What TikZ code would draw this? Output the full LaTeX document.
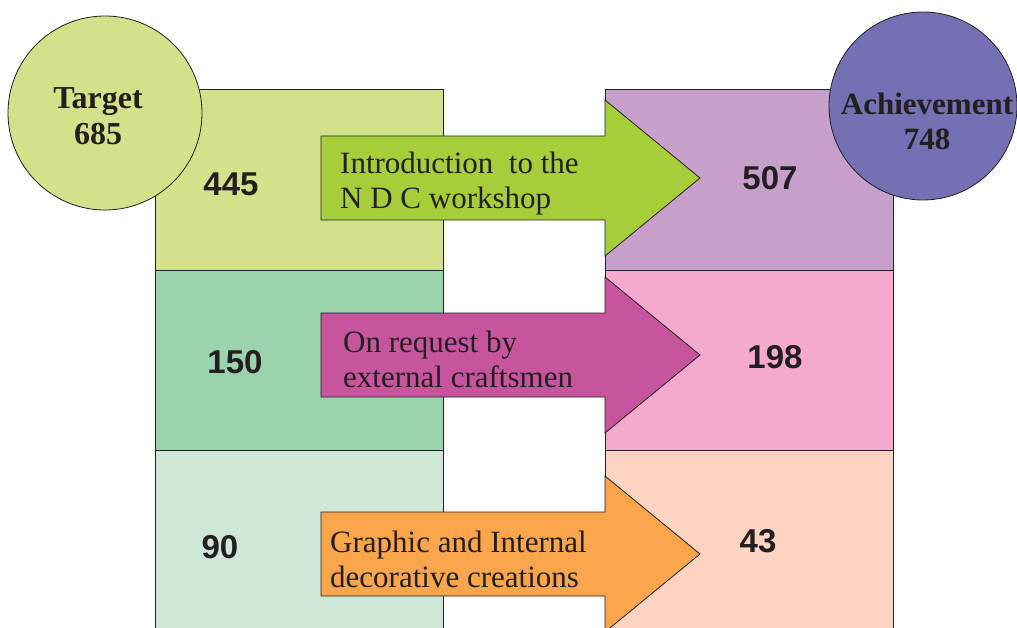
\documentclass[tikz,border=0pt]{standalone}
\usepackage{fontspec}
\setmainfont{Liberation Serif}
\setsansfont{Liberation Sans}
\usepackage{xcolor}

\definecolor{inkgray}{HTML}{231F20}
\definecolor{leftone}{HTML}{D3E18B}
\definecolor{lefttwo}{HTML}{9CD3AF}
\definecolor{leftthree}{HTML}{CFE7D7}
\definecolor{rightone}{HTML}{C79FCB}
\definecolor{righttwo}{HTML}{F5AACD}
\definecolor{rightthree}{HTML}{FCD4C1}
\definecolor{arrowone}{HTML}{A6CE39}
\definecolor{arrowtwo}{HTML}{C7559E}
\definecolor{arrowthree}{HTML}{F9A54B}
\definecolor{targetfill}{HTML}{D3E18B}
\definecolor{achievefill}{HTML}{7570B3}

\tikzset{
  box/.style={draw=inkgray, line width=0.8pt, minimum width=288pt, minimum height=181pt, inner sep=0pt, anchor=north west},
  num/.style={font=\sffamily\bfseries\fontsize{33}{36}\selectfont, text=inkgray},
  arrowtext/.style={anchor=west, align=left, inner sep=0pt, text=inkgray, font=\fontsize{31}{35}\selectfont},
  bigcircle/.style={circle, draw=inkgray, line width=0.8pt, inner sep=0pt},
  circletext/.style={align=center, inner sep=0pt, text=inkgray, font=\bfseries\fontsize{32}{36}\selectfont},
  flow/.style={draw=inkgray, line width=0.8pt, line join=miter}
}

\begin{document}
\begin{tikzpicture}[x=1pt,y=-1pt]
\clip (0,0) rectangle (1017,628);

\node[box, fill=leftone] (left1) at (155,89) {};
\node[box, fill=lefttwo] (left2) at (155,270) {};
\node[box, fill=leftthree, minimum height=200pt] (left3) at (155,450) {};
\node[box, fill=rightone] (right1) at (605,89) {};
\node[box, fill=righttwo] (right2) at (605,270) {};
\node[box, fill=rightthree, minimum height=200pt] (right3) at (605,450) {};

\node[num] (n445) at (231,184) {445};
\node[num] (n150) at (235,362) {150};
\node[num] (n90) at (220,547) {90};
\node[num] (n507) at (770,178) {507};
\node[num] (n198) at (775,357) {198};
\node[num] (n43) at (758,541) {43};

% arrows between the two columns
\draw[flow, fill=arrowone] (321,136) -- (605,136) -- (605,100) -- (700,178) -- (605,256) -- (605,220) -- (321,220) -- cycle;
\draw[flow, fill=arrowtwo] (321,313) -- (605,313) -- (605,277) -- (700,355) -- (605,433) -- (605,397) -- (321,397) -- cycle;
\draw[flow, fill=arrowthree] (321,512) -- (605,512) -- (605,476) -- (700,554) -- (605,632) -- (605,596) -- (321,596) -- cycle;

\node[arrowtext] (t1) at (340,184) {Introduction\ \ to the\\N D C workshop};
\node[arrowtext] (t2) at (343,359) {On request by\\external craftsmen};
\node[arrowtext] (t3) at (330,559) {Graphic and Internal\\decorative creations};

\node[bigcircle, fill=targetfill, minimum size=194pt] (target) at (105,113) {};
\node[circletext] (targettext) at (98,116) {Target\\685};
\node[bigcircle, fill=achievefill, minimum size=188pt] (achieve) at (923,106) {};
\node[circletext, font=\bfseries\fontsize{31}{35}\selectfont] (achievetext) at (927,121) {Achievement\\748};
\end{tikzpicture}
\end{document}
